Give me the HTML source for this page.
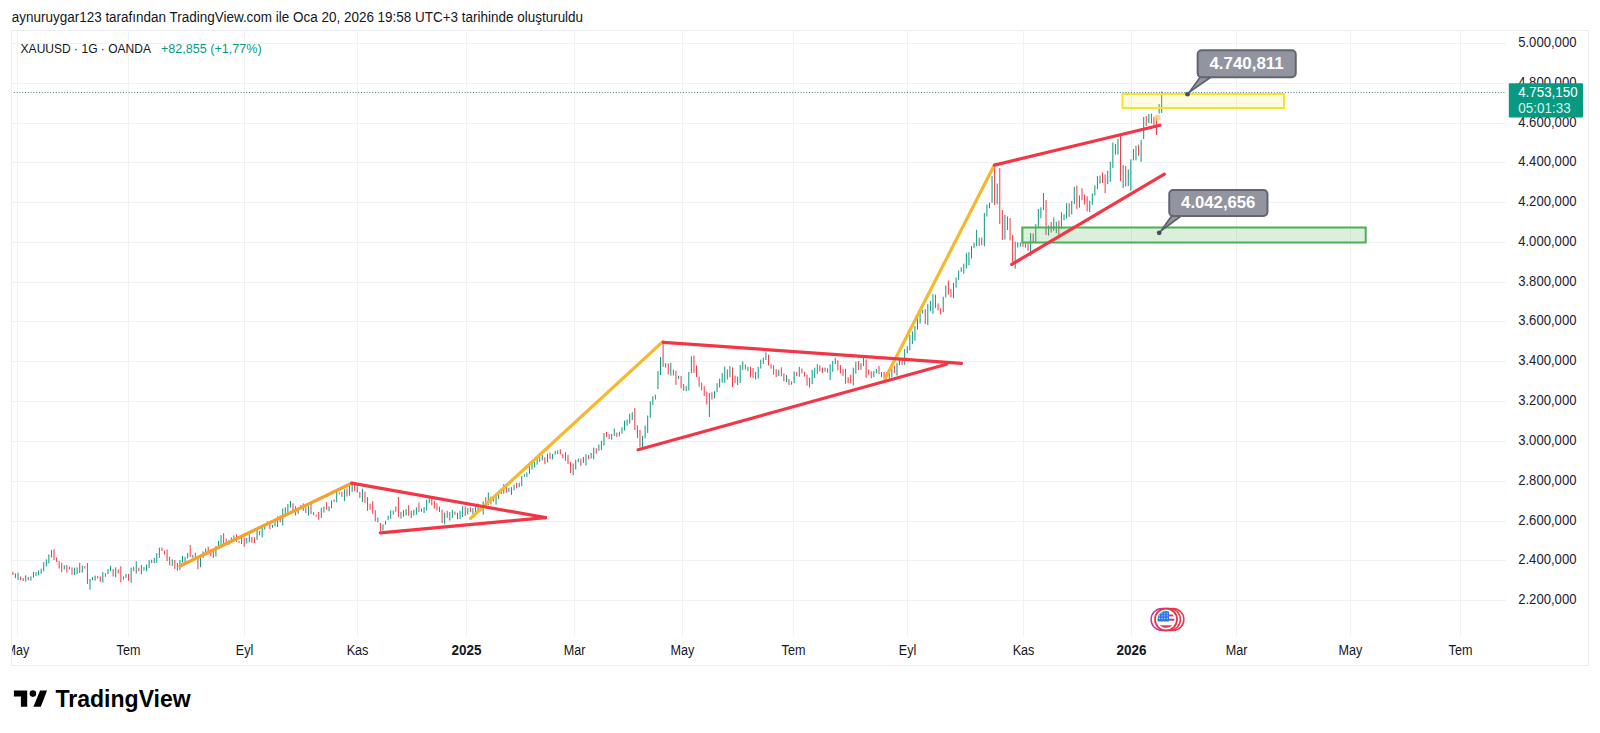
<!DOCTYPE html>
<html><head><meta charset="utf-8"><title>XAUUSD</title>
<style>html,body{margin:0;padding:0;background:#fff;width:1600px;height:733px;overflow:hidden}svg{display:block}</style>
</head><body>
<svg width="1600" height="733" viewBox="0 0 1600 733" font-family="'Liberation Sans', sans-serif">
<defs><clipPath id="pane"><rect x="11" y="31" width="1495" height="605"/></clipPath>
<clipPath id="chart"><rect x="12" y="31" width="1576" height="634"/></clipPath></defs>
<rect width="1600" height="733" fill="#fff"/>
<text x="11.8" y="22.1" font-size="14" fill="#131722" text-anchor="start" font-weight="normal" textLength="571.3" lengthAdjust="spacingAndGlyphs">aynuruygar123 tarafından TradingView.com ile Oca 20, 2026 19:58 UTC+3 tarihinde oluşturuldu</text>
<g clip-path="url(#chart)">
<path d="M11 43.5H1506M11 83.5H1506M11 123.5H1506M11 162.5H1506M11 202.5H1506M11 242.5H1506M11 282.5H1506M11 321.5H1506M11 361.5H1506M11 401.5H1506M11 441.5H1506M11 481.5H1506M11 521.5H1506M11 560.5H1506M11 600.5H1506M17.5 31V636M128.5 31V636M244.5 31V636M357.5 31V636M466.5 31V636M574.5 31V636M682.5 31V636M793.5 31V636M907.5 31V636M1023.5 31V636M1131.5 31V636M1236.5 31V636M1350.5 31V636M1460.5 31V636" stroke="#F0F1F4" stroke-width="1" fill="none"/>
<g clip-path="url(#pane)">
<path d="M10.32 571.3V575.9M18.03 572.8V579.9M25.74 575.3V581.6M30.88 576.3V580.6M33.45 571.8V577.7M36.02 572.1V575.9M38.59 570.5V575.3M41.16 568.7V573.8M43.73 562.2V571.3M46.30 559.4V566.4M48.87 554.4V563.4M51.44 550.0V557.5M64.29 565.3V569.5M74.57 567.6V575.2M77.14 567.4V574.2M82.28 565.7V572.6M89.99 579.0V589.7M92.56 577.1V580.2M95.13 575.6V580.7M102.84 572.0V582.6M105.41 573.3V576.8M107.98 569.1V574.2M110.55 565.8V571.2M115.69 567.4V577.2M123.40 576.4V579.7M125.97 573.9V578.0M131.11 567.7V582.8M136.25 561.3V573.6M141.39 565.0V574.4M143.96 567.1V570.7M146.53 564.6V571.3M149.10 560.1V568.0M154.24 557.9V563.2M156.81 553.1V562.8M159.38 547.6V557.8M172.23 559.4V566.1M177.37 563.0V570.7M179.94 560.0V570.0M182.51 555.9V562.4M185.08 556.9V563.3M187.65 552.9V558.5M192.79 554.9V557.7M200.50 555.4V567.2M203.07 551.5V558.1M205.64 548.5V555.2M215.92 546.2V556.7M218.49 540.9V547.7M221.06 535.1V547.9M228.77 540.3V544.8M231.34 537.4V541.7M233.91 535.4V540.3M241.62 537.1V544.0M246.76 538.0V543.5M249.33 534.3V542.3M257.04 530.0V539.9M262.18 527.2V537.3M264.75 524.6V529.6M267.32 521.3V525.4M272.46 524.8V527.8M275.03 521.3V526.4M277.60 516.3V527.0M282.74 508.5V525.6M285.31 507.2V516.5M287.88 504.0V514.0M290.45 501.0V507.7M298.16 508.3V513.9M300.73 505.3V507.9M308.44 506.1V515.7M321.29 507.7V517.9M323.86 506.7V512.6M329.00 506.3V511.3M331.57 500.4V508.2M336.71 491.5V502.3M344.42 489.3V501.1M349.56 485.6V495.7M352.13 484.5V492.1M362.41 488.6V502.0M377.83 517.7V522.3M382.97 524.3V530.5M385.54 520.7V524.7M388.11 515.6V520.2M390.68 510.4V518.8M393.25 510.6V514.7M400.96 511.8V518.6M403.53 510.1V516.8M406.10 509.0V515.5M411.24 510.8V518.0M413.81 509.7V515.6M416.38 507.3V514.7M421.52 508.6V511.6M424.09 507.0V513.1M426.66 499.5V510.7M429.23 498.2V503.2M444.65 512.6V524.4M449.79 512.1V520.6M452.36 509.9V517.8M460.07 510.8V519.1M462.64 506.1V517.1M467.78 508.0V514.3M472.92 508.1V514.3M478.06 503.4V510.4M483.20 501.4V514.6M488.34 492.5V505.0M493.48 496.5V501.5M496.05 493.9V504.6M498.62 491.9V499.1M501.19 491.7V494.0M503.76 484.2V493.6M508.90 487.8V491.9M511.47 487.2V494.9M514.04 484.6V490.4M519.18 482.6V487.3M521.75 475.8V486.3M524.32 474.1V476.9M526.89 472.4V477.1M529.46 463.2V473.8M532.03 462.4V469.7M534.60 462.1V467.6M537.17 456.2V464.7M542.31 455.1V460.4M547.45 453.7V462.5M552.59 453.9V459.4M555.16 451.0V454.7M557.73 450.5V454.0M573.15 463.5V475.3M575.72 459.8V469.5M578.29 458.5V462.3M583.43 456.9V462.9M586.00 454.2V465.6M591.14 452.8V458.6M593.71 447.7V459.3M598.85 444.5V450.8M601.42 440.9V449.9M603.99 433.0V445.7M611.70 434.0V439.7M614.27 428.5V436.0M619.41 431.7V436.5M621.98 427.1V433.7M624.55 420.7V430.5M627.12 419.5V425.8M629.69 413.7V423.6M632.26 412.2V419.9M642.54 435.8V448.9M645.11 425.5V438.6M647.68 415.5V433.0M650.25 401.4V417.8M652.82 396.3V405.1M657.96 371.0V389.0M660.53 357.0V375.0M665.67 363.1V367.6M670.81 362.8V375.7M678.52 375.8V378.9M686.23 386.0V391.2M688.80 371.9V390.6M691.37 356.3V373.3M709.36 393.0V417.0M714.50 391.3V398.2M717.07 383.1V392.2M719.64 378.6V387.5M722.21 373.0V382.8M724.78 366.5V382.9M729.92 366.1V377.2M737.63 376.7V385.0M740.20 365.1V383.2M742.77 361.4V369.9M747.91 366.9V371.1M755.62 371.9V379.5M758.19 366.9V378.6M760.76 359.7V368.5M763.33 357.7V363.9M765.90 352.4V360.0M778.75 369.6V375.9M786.46 375.0V382.0M791.60 381.3V384.7M794.17 371.4V383.2M799.31 366.9V376.7M812.16 369.8V384.0M814.73 367.7V378.1M817.30 364.2V373.8M825.01 367.6V371.7M830.15 364.4V380.0M832.72 360.9V371.8M835.29 357.7V364.2M853.28 367.7V385.4M855.85 361.6V373.7M860.99 363.3V369.8M863.56 355.7V365.9M873.84 370.9V377.2M876.41 368.9V373.3M881.55 372.0V377.1M889.26 372.5V378.4M891.83 367.9V377.2M896.97 362.8V375.7M899.54 357.6V365.0M904.68 349.1V364.8M907.25 346.2V353.0M909.82 334.8V350.2M912.39 331.3V344.0M914.96 325.8V340.8M917.53 314.4V329.7M920.10 311.9V323.6M922.67 309.9V313.7M927.81 304.2V324.9M930.38 300.8V311.2M932.95 294.2V313.8M943.23 296.7V312.2M945.80 285.4V297.4M953.51 282.9V298.2M956.08 277.6V287.7M958.65 270.5V280.0M961.22 267.3V271.9M963.79 263.7V273.7M966.36 252.9V268.5M968.93 252.1V265.3M971.50 246.0V258.3M974.07 242.5V248.2M976.64 229.8V246.2M984.35 213.0V246.3M986.92 204.6V216.6M989.49 202.7V208.3M992.06 176.0V203.0M997.20 183.5V204.3M1004.91 214.8V239.5M1015.19 241.5V268.8M1017.76 242.2V247.6M1020.33 242.5V246.6M1025.47 243.4V247.6M1030.61 233.1V255.9M1035.75 224.1V242.6M1038.32 209.0V227.4M1040.89 207.3V218.3M1048.60 225.5V235.6M1053.74 217.4V230.8M1056.31 221.8V233.2M1061.45 212.3V228.7M1064.02 214.2V220.4M1066.59 203.2V218.7M1071.73 201.0V214.4M1074.30 186.8V204.2M1079.44 195.4V207.7M1089.72 200.8V212.1M1092.29 193.4V204.8M1094.86 185.3V195.6M1097.43 176.1V189.1M1100.00 175.7V183.6M1107.71 170.7V184.2M1110.28 161.8V181.9M1112.85 142.5V167.9M1115.42 143.9V154.6M1117.99 138.8V154.8M1123.13 165.2V188.1M1128.27 169.3V186.2M1130.84 159.3V190.6M1133.41 149.0V160.4M1135.98 145.8V160.3M1141.12 140.0V161.9M1143.69 117.0V139.0M1148.83 114.0V123.0M1151.40 113.6V123.5M1159.11 104.0V113.6M1161.68 91.3V113.0" stroke="#089981" stroke-width="1" fill="none"/><path d="M12.89 571.9V575.1M15.46 573.4V578.1M20.60 576.5V580.2M23.17 578.1V581.0M28.31 577.0V580.1M54.01 549.1V560.0M56.58 557.5V561.9M59.15 560.9V568.6M61.72 562.7V572.1M66.86 565.0V572.5M69.43 566.6V569.4M72.00 567.5V574.8M79.71 562.9V573.0M84.85 566.2V568.6M87.42 563.0V584.0M97.70 576.1V578.6M100.27 576.3V581.9M113.12 569.1V576.5M118.26 569.3V573.4M120.83 566.2V582.3M128.54 573.9V580.7M133.68 566.7V571.4M138.82 567.7V571.3M151.67 559.7V563.0M161.95 547.6V551.0M164.52 550.7V554.4M167.09 549.5V561.1M169.66 556.8V565.4M174.80 560.0V569.0M190.22 545.0V557.0M195.36 552.7V559.7M197.93 556.0V569.3M208.21 546.6V554.5M210.78 550.1V555.9M213.35 550.1V558.0M223.63 533.2V543.9M226.20 538.7V543.8M236.48 534.3V541.8M239.05 541.1V542.9M244.19 537.6V546.8M251.90 537.0V542.7M254.47 537.3V542.9M259.61 531.0V535.3M269.89 523.8V529.2M280.17 515.5V522.3M293.02 503.3V512.4M295.59 506.1V515.5M303.30 503.4V510.8M305.87 507.2V513.0M311.01 502.8V514.0M313.58 512.1V515.1M316.15 514.7V516.6M318.72 512.0V519.8M326.43 502.2V509.8M334.14 499.5V501.9M339.28 492.3V494.5M341.85 491.8V496.9M346.99 488.5V496.5M354.70 483.9V491.3M357.27 486.3V492.7M359.84 491.8V497.9M364.98 491.7V503.2M367.55 497.0V510.8M370.12 503.7V509.7M372.69 501.3V513.9M375.26 510.2V521.4M380.40 523.0V531.0M395.82 506.5V511.8M398.39 497.0V517.0M408.67 505.2V515.7M418.95 502.6V512.1M431.80 497.9V505.4M434.37 500.9V508.6M436.94 503.2V510.3M439.51 506.7V512.0M442.08 509.6V523.0M447.22 510.7V517.8M454.93 511.5V514.8M457.50 512.7V519.2M465.21 506.4V516.0M470.35 507.2V512.1M475.49 506.4V513.6M480.63 507.4V510.6M485.77 497.2V505.7M490.91 496.6V504.4M506.33 483.4V492.8M516.61 482.8V488.3M539.74 457.2V461.9M544.88 457.2V464.2M550.02 452.6V459.0M560.30 449.2V454.4M562.87 453.9V458.4M565.44 452.1V460.8M568.01 454.8V464.1M570.58 462.0V473.0M580.86 458.6V465.8M588.57 455.1V459.3M596.28 448.3V453.7M606.56 431.9V437.1M609.13 433.8V439.1M616.84 432.5V436.9M634.83 408.0V430.0M637.40 425.3V438.2M639.97 430.0V447.0M655.39 394.7V399.5M663.10 342.0V367.0M668.24 363.5V374.5M673.38 369.6V375.5M675.95 370.7V384.9M681.09 376.0V388.4M683.66 383.9V390.8M693.94 355.5V372.9M696.51 365.5V377.0M699.08 376.5V386.7M701.65 382.6V390.4M704.22 386.0V396.0M706.79 391.6V404.4M711.93 392.2V399.5M727.35 369.4V379.5M732.49 367.4V387.0M735.06 375.6V382.9M745.34 364.4V369.5M750.48 366.7V377.3M753.05 368.0V377.9M768.47 354.7V365.5M771.04 364.2V368.7M773.61 365.4V374.6M776.18 369.0V377.0M781.32 367.3V376.3M783.89 373.3V381.4M789.03 378.7V385.0M796.74 371.9V376.2M801.88 368.5V373.3M804.45 371.9V376.5M807.02 374.6V385.6M809.59 377.5V387.5M819.87 365.4V371.6M822.44 367.6V373.1M827.58 368.3V372.8M837.86 360.3V370.4M840.43 365.1V373.5M843.00 368.9V375.7M845.57 368.8V383.7M848.14 377.2V383.1M850.71 374.5V383.1M858.42 361.1V370.0M866.13 359.4V377.9M868.70 369.5V374.7M871.27 371.5V378.2M878.98 366.1V374.0M884.12 371.9V378.2M886.69 372.2V377.1M894.40 365.6V373.1M902.11 357.9V365.0M925.24 309.1V324.1M935.52 294.6V307.9M938.09 303.4V310.5M940.66 308.3V314.4M948.37 280.5V294.6M950.94 289.1V297.2M979.21 237.6V246.0M981.78 237.6V245.3M994.63 164.0V205.0M999.77 168.0V224.0M1002.34 210.0V240.0M1007.48 216.5V230.0M1010.05 218.0V240.4M1012.62 235.0V262.0M1022.90 242.6V246.8M1028.04 243.1V250.8M1033.18 233.5V242.8M1043.46 193.0V210.0M1046.03 200.0V235.0M1051.17 222.0V232.5M1058.88 220.5V235.1M1069.16 203.3V216.9M1076.87 185.6V208.9M1082.01 188.3V200.1M1084.58 194.6V204.6M1087.15 196.3V211.5M1102.57 172.5V183.0M1105.14 174.4V193.2M1120.56 134.0V181.0M1125.70 166.0V186.5M1138.55 144.6V155.6M1146.26 116.0V126.0M1153.97 117.0V125.0M1156.54 117.7V135.0" stroke="#F23645" stroke-width="1" fill="none"/>
<rect x="1022.3" y="227.5" width="343.4" height="15" fill="#4CAF50" fill-opacity="0.2" stroke="#4CAF50" stroke-width="2"/><rect x="1122.5" y="94" width="161.5" height="14" fill="#FFEB3B" fill-opacity="0.16" stroke="#F6E232" stroke-width="2"/><line x1="180" y1="566" x2="351.7" y2="483.2" stroke="#F7A02C" stroke-width="3.2" stroke-linecap="round"/><line x1="470.6" y1="518.4" x2="662.8" y2="341.6" stroke="#F5B82E" stroke-width="3.2" stroke-linecap="round"/><line x1="885" y1="379" x2="994.5" y2="164.8" stroke="#F5B82E" stroke-width="3.2" stroke-linecap="round"/><line x1="351.7" y1="483.2" x2="545.5" y2="517.6" stroke="#F23645" stroke-width="3.2" stroke-linecap="round"/><line x1="380.4" y1="532.8" x2="545.5" y2="517.6" stroke="#F23645" stroke-width="3.2" stroke-linecap="round"/><line x1="663.3" y1="342.3" x2="961.6" y2="363.4" stroke="#F23645" stroke-width="3.2" stroke-linecap="round"/><line x1="638.1" y1="449.7" x2="946.6" y2="364.2" stroke="#F23645" stroke-width="3.2" stroke-linecap="round"/><line x1="994.5" y1="165.1" x2="1159.9" y2="125.2" stroke="#F23645" stroke-width="3.2" stroke-linecap="round"/><line x1="1011.7" y1="264.4" x2="1164.4" y2="174.2" stroke="#F23645" stroke-width="3.2" stroke-linecap="round"/>
<path d="M1201 76L1189.1 92.4L1212.5 76Z" fill="#9295A0" stroke="#5D606B" stroke-width="1.6" stroke-linejoin="round"/><rect x="1197.65" y="50.25" width="98.09999999999991" height="27.0" rx="4" fill="#9295A0" stroke="#62656F" stroke-width="2"/><circle cx="1187.5" cy="94.2" r="2.4" fill="#4A4D57"/><text x="1246.6000000000001" y="69.05" font-size="16.5" fill="#FFFFFF" text-anchor="middle" font-weight="bold" textLength="74.3" lengthAdjust="spacingAndGlyphs">4.740,811</text><path d="M1172.5 214.7L1160.8 231.0L1183 214.7Z" fill="#9295A0" stroke="#5D606B" stroke-width="1.6" stroke-linejoin="round"/><rect x="1169.25" y="190.05" width="98.20000000000005" height="25.899999999999977" rx="4" fill="#9295A0" stroke="#62656F" stroke-width="2"/><circle cx="1159.2" cy="232.8" r="2.4" fill="#4A4D57"/><text x="1218.25" y="208.3" font-size="16.5" fill="#FFFFFF" text-anchor="middle" font-weight="bold" textLength="74.3" lengthAdjust="spacingAndGlyphs">4.042,656</text>

<line x1="11" y1="92.5" x2="1510" y2="92.5" stroke="#4F7D78" stroke-width="1" stroke-dasharray="1 1.8"/>
<circle cx="1157.3" cy="117.8" r="3.2" fill="#FFC772" fill-opacity="0.75"/>
<circle cx="1162.0" cy="619.5" r="10.9" fill="#fff" stroke="#B13EA8" stroke-width="1.5"/><circle cx="1173" cy="619.5" r="10.9" fill="#fff" stroke="#E8344A" stroke-width="1.5"/><circle cx="1169.5" cy="619.5" r="10.9" fill="#fff" stroke="#E8344A" stroke-width="1.5"/><circle cx="1166" cy="619.5" r="11" fill="#fff" stroke="#E8344A" stroke-width="1.8"/><clipPath id="fc"><circle cx="1166" cy="619.5" r="8.4"/></clipPath><g clip-path="url(#fc)"><rect x="1157" y="610.5" width="18" height="18" fill="#fff"/><rect x="1157" y="614.5" width="18" height="1.9" fill="#E8344A"/><rect x="1157" y="618.7" width="18" height="2" fill="#E8344A"/><rect x="1157" y="625.3" width="18" height="2.6" fill="#E8344A"/><rect x="1157" y="610.5" width="12" height="11" fill="#2E7BE6"/><circle cx="1159.5" cy="613.2" r="0.55" fill="#cfe2ff"/><circle cx="1159.5" cy="615.8" r="0.55" fill="#cfe2ff"/><circle cx="1159.5" cy="618.4" r="0.55" fill="#cfe2ff"/><circle cx="1162.1" cy="613.2" r="0.55" fill="#cfe2ff"/><circle cx="1162.1" cy="615.8" r="0.55" fill="#cfe2ff"/><circle cx="1162.1" cy="618.4" r="0.55" fill="#cfe2ff"/><circle cx="1164.7" cy="613.2" r="0.55" fill="#cfe2ff"/><circle cx="1164.7" cy="615.8" r="0.55" fill="#cfe2ff"/><circle cx="1164.7" cy="618.4" r="0.55" fill="#cfe2ff"/><circle cx="1167.3" cy="613.2" r="0.55" fill="#cfe2ff"/><circle cx="1167.3" cy="615.8" r="0.55" fill="#cfe2ff"/><circle cx="1167.3" cy="618.4" r="0.55" fill="#cfe2ff"/></g>
</g>
<text x="20.6" y="52.8" font-size="13.6" fill="#131722" text-anchor="start" font-weight="normal" textLength="130.4" lengthAdjust="spacingAndGlyphs">XAUUSD · 1G · OANDA</text><text x="160.9" y="52.8" font-size="13.6" fill="#089981" text-anchor="start" font-weight="normal" textLength="100.7" lengthAdjust="spacingAndGlyphs">+82,855 (+1,77%)</text>
<text x="1518.2" y="47.0" font-size="14" fill="#1E222D" text-anchor="start" font-weight="normal" textLength="58.3" lengthAdjust="spacingAndGlyphs">5.000,000</text><text x="1518.2" y="87.0" font-size="14" fill="#1E222D" text-anchor="start" font-weight="normal" textLength="58.3" lengthAdjust="spacingAndGlyphs">4.800,000</text><text x="1518.2" y="127.0" font-size="14" fill="#1E222D" text-anchor="start" font-weight="normal" textLength="58.3" lengthAdjust="spacingAndGlyphs">4.600,000</text><text x="1518.2" y="166.0" font-size="14" fill="#1E222D" text-anchor="start" font-weight="normal" textLength="58.3" lengthAdjust="spacingAndGlyphs">4.400,000</text><text x="1518.2" y="206.0" font-size="14" fill="#1E222D" text-anchor="start" font-weight="normal" textLength="58.3" lengthAdjust="spacingAndGlyphs">4.200,000</text><text x="1518.2" y="246.0" font-size="14" fill="#1E222D" text-anchor="start" font-weight="normal" textLength="58.3" lengthAdjust="spacingAndGlyphs">4.000,000</text><text x="1518.2" y="286.0" font-size="14" fill="#1E222D" text-anchor="start" font-weight="normal" textLength="58.3" lengthAdjust="spacingAndGlyphs">3.800,000</text><text x="1518.2" y="325.0" font-size="14" fill="#1E222D" text-anchor="start" font-weight="normal" textLength="58.3" lengthAdjust="spacingAndGlyphs">3.600,000</text><text x="1518.2" y="365.0" font-size="14" fill="#1E222D" text-anchor="start" font-weight="normal" textLength="58.3" lengthAdjust="spacingAndGlyphs">3.400,000</text><text x="1518.2" y="405.0" font-size="14" fill="#1E222D" text-anchor="start" font-weight="normal" textLength="58.3" lengthAdjust="spacingAndGlyphs">3.200,000</text><text x="1518.2" y="445.0" font-size="14" fill="#1E222D" text-anchor="start" font-weight="normal" textLength="58.3" lengthAdjust="spacingAndGlyphs">3.000,000</text><text x="1518.2" y="485.0" font-size="14" fill="#1E222D" text-anchor="start" font-weight="normal" textLength="58.3" lengthAdjust="spacingAndGlyphs">2.800,000</text><text x="1518.2" y="525.0" font-size="14" fill="#1E222D" text-anchor="start" font-weight="normal" textLength="58.3" lengthAdjust="spacingAndGlyphs">2.600,000</text><text x="1518.2" y="564.0" font-size="14" fill="#1E222D" text-anchor="start" font-weight="normal" textLength="58.3" lengthAdjust="spacingAndGlyphs">2.400,000</text><text x="1518.2" y="604.0" font-size="14" fill="#1E222D" text-anchor="start" font-weight="normal" textLength="58.3" lengthAdjust="spacingAndGlyphs">2.200,000</text><text x="17.5" y="655" font-size="14" fill="#131722" text-anchor="middle" font-weight="normal" textLength="23.8" lengthAdjust="spacingAndGlyphs">May</text><text x="128.5" y="655" font-size="14" fill="#131722" text-anchor="middle" font-weight="normal" textLength="23.8" lengthAdjust="spacingAndGlyphs">Tem</text><text x="244.5" y="655" font-size="14" fill="#131722" text-anchor="middle" font-weight="normal" textLength="17.5" lengthAdjust="spacingAndGlyphs">Eyl</text><text x="357.5" y="655" font-size="14" fill="#131722" text-anchor="middle" font-weight="normal" textLength="21.7" lengthAdjust="spacingAndGlyphs">Kas</text><text x="466.5" y="655" font-size="14" fill="#131722" text-anchor="middle" font-weight="bold" textLength="30" lengthAdjust="spacingAndGlyphs">2025</text><text x="574.5" y="655" font-size="14" fill="#131722" text-anchor="middle" font-weight="normal" textLength="21.7" lengthAdjust="spacingAndGlyphs">Mar</text><text x="682.5" y="655" font-size="14" fill="#131722" text-anchor="middle" font-weight="normal" textLength="23.8" lengthAdjust="spacingAndGlyphs">May</text><text x="793.5" y="655" font-size="14" fill="#131722" text-anchor="middle" font-weight="normal" textLength="23.8" lengthAdjust="spacingAndGlyphs">Tem</text><text x="907.5" y="655" font-size="14" fill="#131722" text-anchor="middle" font-weight="normal" textLength="17.5" lengthAdjust="spacingAndGlyphs">Eyl</text><text x="1023.5" y="655" font-size="14" fill="#131722" text-anchor="middle" font-weight="normal" textLength="21.7" lengthAdjust="spacingAndGlyphs">Kas</text><text x="1131.5" y="655" font-size="14" fill="#131722" text-anchor="middle" font-weight="bold" textLength="30" lengthAdjust="spacingAndGlyphs">2026</text><text x="1236.5" y="655" font-size="14" fill="#131722" text-anchor="middle" font-weight="normal" textLength="21.7" lengthAdjust="spacingAndGlyphs">Mar</text><text x="1350.5" y="655" font-size="14" fill="#131722" text-anchor="middle" font-weight="normal" textLength="23.8" lengthAdjust="spacingAndGlyphs">May</text><text x="1460.5" y="655" font-size="14" fill="#131722" text-anchor="middle" font-weight="normal" textLength="23.8" lengthAdjust="spacingAndGlyphs">Tem</text>
<rect x="1508.8" y="83.2" width="74.2" height="34.3" rx="1" fill="#089981"/><text x="1518.2" y="96.9" font-size="14" fill="#FFFFFF" text-anchor="start" font-weight="normal" textLength="59.4" lengthAdjust="spacingAndGlyphs">4.753,150</text><text x="1518.2" y="113.1" font-size="14" fill="#D2F1EC" text-anchor="start" font-weight="normal" textLength="52.5" lengthAdjust="spacingAndGlyphs">05:01:33</text>
</g>
<rect x="11.5" y="30.5" width="1577" height="635" fill="none" stroke="#EDEEF1" stroke-width="1"/>
<path d="M13.9 690.6H27.2V706.8H20.9V696.5H13.9Z" fill="#000"/><circle cx="32.9" cy="693.6" r="3.3" fill="#000"/><path d="M40.1 690.6H47.1L40.8 706.8H33.4Z" fill="#000"/><text x="55.5" y="707" font-size="23.7" fill="#000" text-anchor="start" font-weight="bold" textLength="135.2" lengthAdjust="spacingAndGlyphs">TradingView</text>
</svg>
</body></html>
